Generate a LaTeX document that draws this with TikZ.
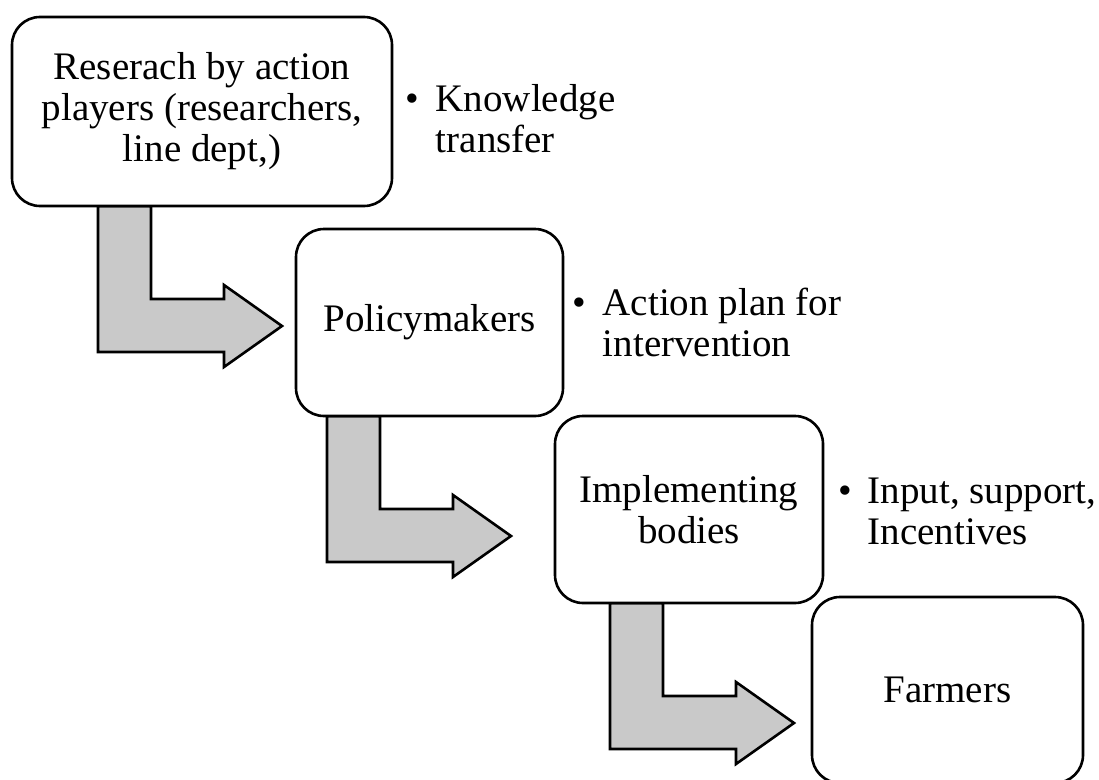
\documentclass[tikz,border=0pt]{standalone}
\usepackage{fontspec}
\setmainfont{Liberation Serif}
\begin{document}
\begin{tikzpicture}[x=1pt,y=-1pt,
  box/.style={draw=black, line width=2.6pt, rounded corners=28pt, fill=white,
    inner sep=0pt, align=center, font=\fontsize{39}{41}\selectfont},
  note/.style={anchor=base west, inner sep=0pt, font=\fontsize{39}{41}\selectfont},
  elbowarrow/.pic={
    \draw[line width=2.6pt, fill=arrowgray, line join=miter]
      (0,0) -- (0,146) -- (126,146) -- (126,161) -- (184,120)
      -- (126,79) -- (126,93) -- (53,93) -- (53,0) -- cycle;
  }]
\definecolor{arrowgray}{HTML}{C9C9C9}
\useasboundingbox (0,0) rectangle (1099,779);
\fill[white] (0,0) rectangle (1099,779);

\coordinate (a1) at (98,206);
\coordinate (a2) at (327,416);
\coordinate (a3) at (610,603);
\pic at (a1) {elbowarrow};
\pic at (a2) {elbowarrow};
\pic at (a3) {elbowarrow};

\node[box, minimum width=380pt, minimum height=189pt] (b1) at (202,111.5)
  {Reserach by action\\players (researchers,\\line dept,)};
\node[box, minimum width=267pt, minimum height=187pt] (b2) at (429.5,322.5)
  {Policymakers};
\node[box, minimum width=268pt, minimum height=187pt] (b3) at (689,509.5)
  {Implementing\\bodies};
\node[box, minimum width=271pt, minimum height=186pt] (b4) at (947.5,690)
  {Farmers};

\node[note] (n1) at (405,111)
  {\begin{tabular}[t]{@{}c@{\hspace{17pt}}l@{}}\textbullet & Knowledge\\ & transfer\end{tabular}};
\node[note] (n2) at (572,315)
  {\begin{tabular}[t]{@{}c@{\hspace{17pt}}l@{}}\textbullet & Action plan for\\ & intervention\end{tabular}};
\node[note] (n3) at (838,503)
  {\begin{tabular}[t]{@{}c@{\hspace{16pt}}l@{}}\textbullet & Input, support,\\ & Incentives\end{tabular}};
\end{tikzpicture}
\end{document}
